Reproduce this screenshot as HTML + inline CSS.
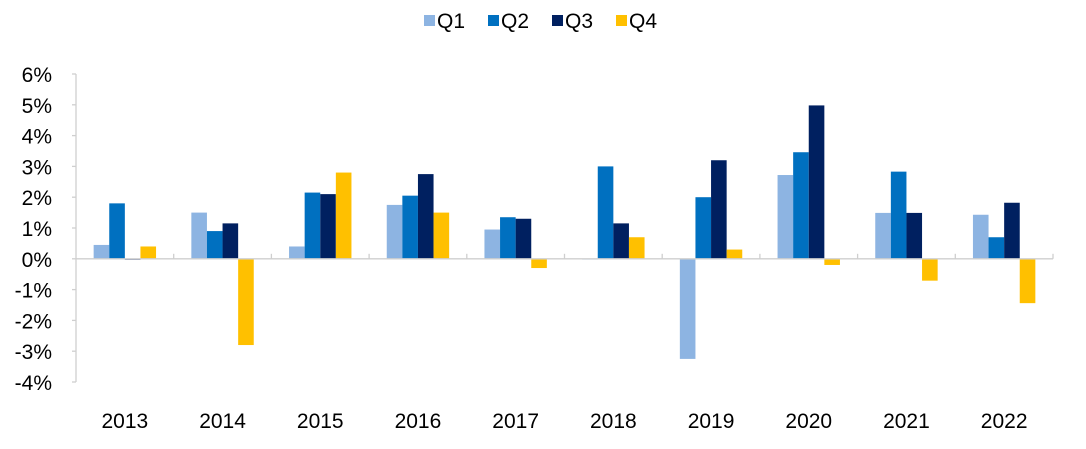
<!DOCTYPE html>
<html><head><meta charset="utf-8"><style>
body{margin:0;background:#fff;width:1086px;height:444px;overflow:hidden}
text{font-family:"Liberation Sans",Arial,sans-serif;fill:#000;font-size:21px}
</style></head><body>
<svg id="chart" width="1086" height="444" xmlns="http://www.w3.org/2000/svg"></svg>
<script>
const categories=["2013","2014","2015","2016","2017","2018","2019","2020","2021","2022"];
const seriesNames=["Q1","Q2","Q3","Q4"];
const q1=[0.45,1.5,0.4,1.75,0.95,-0.02,-3.25,2.72,1.49,1.43];
const q2=[1.8,0.9,2.15,2.05,1.35,3.0,2.0,3.46,2.83,0.7];
const q3=[-0.03,1.15,2.1,2.75,1.3,1.15,3.2,4.98,1.49,1.82];
const q4=[0.4,-2.8,2.8,1.5,-0.3,0.7,0.3,-0.2,-0.71,-1.44];
const yTicks=[-4,-3,-2,-1,0,1,2,3,4,5,6];
(function(){
const colors=["#8db4e2","#0070c0","#002060","#ffc000"];
const series=[q1,q2,q3,q4];
const svg=document.getElementById('chart');
const NS="http://www.w3.org/2000/svg";
const plotLeft=76,plotRight=1053,plotTop=74,plotBottom=382,yMin=-4,yMax=6;
const y=v=>plotBottom-(v-yMin)/(yMax-yMin)*(plotBottom-plotTop);
const band=(plotRight-plotLeft)/categories.length;
const x=i=>plotLeft+band*(i+0.5);
const bw=15.6;
function mk(t,a){const e=document.createElementNS(NS,t);for(const k in a)e.setAttribute(k,a[k]);svg.appendChild(e);return e;}
let ax=mk('line',{x1:plotLeft,y1:plotTop,x2:plotLeft,y2:plotBottom,stroke:'#cfcfcf','stroke-width':1.3});


yTicks.forEach(t=>{
 const tk=mk('line',{x1:plotLeft-4,x2:plotLeft,y1:y(t),y2:y(t),stroke:'#cfcfcf','stroke-width':1.3});
 
 
 const lb=mk('text',{x:52,y:y(t)+8,'text-anchor':'end'});
 lb.textContent=t+'%';
 
 
});
series.forEach((s,si)=>{
 s.forEach((v,i)=>{
  const bx=x(i)-2*bw+si*bw;
  const r=mk('rect',{x:bx,y:Math.min(y(v),y(0)),width:bw,height:Math.max(Math.abs(y(v)-y(0)),0.8),fill:colors[si]});
  
  
 });
});
let xa=mk('line',{x1:plotLeft,y1:y(0),x2:plotRight,y2:y(0),stroke:'#cfcfcf','stroke-width':1.3});


for(let i=1;i<=categories.length;i++){
 const tk=mk('line',{x1:plotLeft+band*i,x2:plotLeft+band*i,y1:y(0)-5,y2:y(0),stroke:'#cfcfcf','stroke-width':1.3});
 
 
}
categories.forEach((c,i)=>{
 const lb=mk('text',{x:x(i),y:428,'text-anchor':'middle'});
 lb.textContent=c;
 
 
});
const lx=[424,488,552,616];
seriesNames.forEach((n,si)=>{
 const sw=mk('rect',{x:lx[si],y:15,width:11,height:11,fill:colors[si]});
 
 
 const t=mk('text',{x:lx[si]+13,y:28});
 t.textContent=n;
 
 
});
})();
</script>
</body></html>
